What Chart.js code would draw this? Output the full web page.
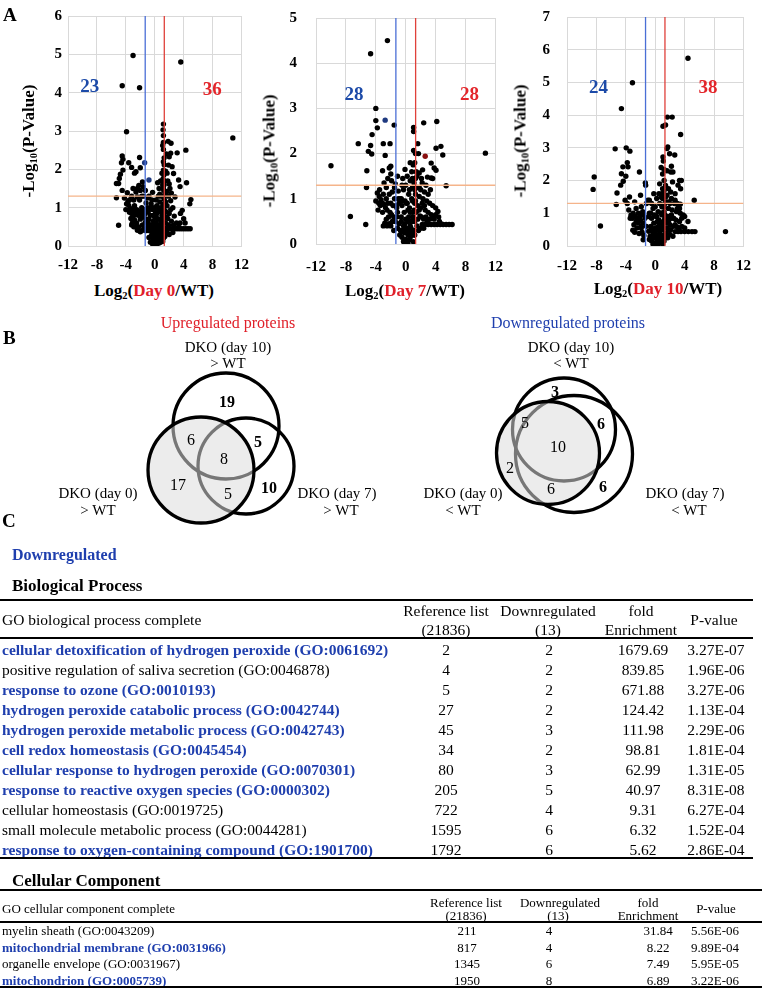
<!DOCTYPE html>
<html><head><meta charset="utf-8">
<script src="https://cdn.jsdelivr.net/npm/chart.js@4.4.1/dist/chart.umd.min.js"></script>
<style>
html,body{margin:0;padding:0;background:#fff;}
#page{position:relative;width:762px;height:989px;overflow:hidden;font-family:"Liberation Serif","Times New Roman",serif;color:#000;background:#fff;}
#page canvas{position:absolute;}
.t{position:absolute;white-space:nowrap;line-height:1;}
.c{transform:translate(-50%,-50%);}
.l{transform:translate(0,-50%);}
.ytitle{position:absolute;white-space:nowrap;line-height:1;font-weight:bold;font-size:17px;transform:translate(-50%,-50%) rotate(-90deg);}
.xtitle{position:absolute;white-space:nowrap;line-height:1;font-weight:bold;font-size:17px;transform:translate(-50%,-50%);}
sub{font-size:0.62em;vertical-align:-0.3em;line-height:0;}
.red{color:#e0202a;}
.panel{font-weight:bold;font-size:19px;}
.rule{position:absolute;height:2px;background:#000;}
.hl{font-weight:bold;color:#1f3fae;}
svg{position:absolute;left:0;top:0;}
</style>
</head>
<body>
<div id="page">
  <canvas id="v0"></canvas>
  <canvas id="v7"></canvas>
  <canvas id="v10"></canvas>
</div>
<script>
// ---------------- Volcano plot data ----------------
const xTickStep = 4;
const xRange = [-12, 12];
const yMaxes = [6, 5, 7];
const foldCut = [-1.32, 1.32];
const pCut = 1.3;
const downCounts = [23, 28, 24];
const upCounts = [36, 28, 38];
const dayLabels = ["Day 0", "Day 7", "Day 10"];

const day0Points = [
 [-3.0,4.97],[3.6,4.80],[-4.5,4.18],[-2.1,4.13],[10.8,2.82],[-3.9,2.98],
 [1.2,3.18],[1.15,3.03],[1.2,2.88],[1.1,2.62],[1.2,2.52],[1.85,2.73],[2.25,2.68],[3.1,2.43],[4.3,2.5],[2.2,2.42],[2.0,2.33],[1.3,2.12],[1.9,2.11],[2.4,2.07],[1.2,1.98],[2.6,1.89],[1.25,1.85],[1.15,1.75],[3.3,1.72],[4.4,1.65],[1.8,1.7],[2.0,1.62],[1.3,1.6],[3.5,1.55],[2.1,1.5],[1.25,1.45],[1.7,1.42],[2.3,1.38],[1.4,1.33],[1.9,1.3],[2.8,1.28],[1.3,1.22],[2.2,1.18],[5.0,1.21],[4.85,1.1],[1.3,1.1],[1.7,1.05],[2.5,1.0],[1.25,0.98],[1.5,0.9],[3.8,0.93],[3.55,0.85],[2.0,0.85],[1.3,0.8],[2.7,0.78],[1.8,0.72],[4.0,0.71],[1.2,0.7],[2.3,0.65],[1.5,0.6],[3.0,0.6],[1.9,0.55],[4.2,0.6],
 [1.3,0.45],[1.6,0.45],[1.9,0.45],[2.2,0.45],[2.5,0.45],[2.8,0.45],[3.1,0.45],[3.4,0.45],[3.7,0.45],[4.0,0.45],[4.3,0.45],[4.6,0.45],[4.9,0.45],
 [-2.1,2.31],[-3.6,2.17],[-4.6,2.17],[-4.4,2.26],[-4.5,2.35],[-2.0,2.04],[-2.6,1.94],[-4.4,1.98],[-4.75,1.87],[-4.9,1.76],[-5.0,1.63],[-5.3,1.63],[-5.3,1.26],[-5.0,0.54],[-3.8,1.39],[-3.7,1.16],[-3.6,1.06],[-3.4,0.98],[-3.2,0.85],[-3.0,0.76],[-2.8,0.68],[-3.1,0.6],[-3.2,0.55],[-2.9,0.5],[-2.4,0.41],[-2.0,0.37],[-2.2,0.5],[-1.7,1.67],[-2.2,1.58],[-2.4,1.5],[-2.6,1.41],[-2.4,1.28],[-2.9,1.2],[-1.5,1.3],[-1.2,1.12],[-1.8,1.0],[-2.5,0.95],[-2.2,0.9],[-1.9,0.8],[-1.5,0.75],[-1.3,0.62],[-1.7,0.55],[-1.0,0.5],[-3.5,0.88],[-4.0,0.95],[-3.3,0.72],[-2.6,0.82],[-3.9,1.1],[-2.0,1.45],[-1.6,1.55],
 [-0.8,1.3],[-0.5,1.1],[-0.3,0.95],[0.2,1.2],[0.5,1.0],[0.8,0.9],[-0.6,0.8],[0.0,0.75],[0.4,0.7],[0.9,0.65],[-0.9,0.6],[-0.4,0.55],[0.1,0.5],[0.6,0.45],[1.0,0.4],[-0.7,0.4],[-0.2,0.35],[0.3,0.3],[0.8,0.28],[-0.5,0.25],[0.0,0.2],[0.5,0.15],[0.2,0.1],[-0.2,0.12],[0.3,0.05],[0.1,0.02],[-0.1,0.06],[0.6,0.08],[0.9,0.18],[-0.8,0.22],[1.1,0.12],[0.7,0.55],[0.3,0.85],[-0.1,1.0],[0.9,1.3],[0.6,1.5],[-0.3,1.4],[0.8,1.7],[1.0,1.9],[0.4,1.65],[-0.6,0.1],[0.4,0.4],[1.0,0.8],[1.1,1.05],[0.7,1.15],[-0.2,0.65],[0.2,0.6],
 [-0.3,0.05],[0.0,0.3],[0.2,0.25],[0.5,0.3],[0.7,0.35],[-0.4,0.3],[-0.1,0.45],[0.3,0.5],[0.8,0.5],[1.0,0.6],[-0.6,0.5],[-1.1,0.7],[-1.3,0.85],[-0.9,0.9],[-1.0,1.0],[-0.6,1.0],[0.1,0.9],[0.6,0.7],[0.9,0.95],[1.1,0.3],[1.2,0.2],[1.2,0.5],[1.1,0.7],[1.2,0.9],[1.15,1.3],[1.2,1.5],[1.1,1.6],[1.3,1.7],[1.2,2.2],[1.3,2.3],[1.2,2.7],[0.8,0.1],[0.6,0.3],[0.4,0.2],[0.0,0.4],[-0.3,0.2],[-0.5,0.45],[-0.8,0.7],[-1.2,0.4],[-1.5,0.45],[-1.8,0.4],[-1.6,0.9],[-2.0,0.7],[-2.3,0.8],[-2.7,0.9],[-2.8,1.05],[-3.0,0.95],[-2.1,1.2],[-1.8,1.3],[-1.4,0.95],[-1.1,0.9],[-0.2,0.8],[0.5,0.55],[0.2,0.75],[-0.4,1.2],[0.3,1.05],[0.5,1.3],[0.7,1.35],[1.5,1.15],[1.6,0.75],[1.7,0.35],[1.4,0.25],[2.0,0.3],[2.5,0.35],[1.5,1.95],[1.6,2.4],[1.7,1.9],[2.2,0.95],[2.6,0.55],[3.3,0.5],[3.5,0.6],[-2.5,0.6],[-2.7,0.5],[-3.5,1.2],[-3.2,1.3],[-4.2,1.25],[-4.5,1.45],[-3.0,1.5],[-1.3,1.45],[-1.0,1.25],[-2.8,1.9],[-3.2,2.05]
];
const day0Blue = [[-1.4,2.17],[-0.8,1.72]];
const day0Red = [];

const day7Points = [
 [-2.45,4.5],[-4.7,4.21],[-4.0,3.0],[-10.0,1.73],[-7.4,0.61],[-5.35,0.43],[10.65,2.01],
 [-4.0,2.73],[-3.8,2.57],[-4.5,2.42],[-1.55,2.63],[-6.35,2.22],[-4.7,2.18],[-3.0,2.22],[-2.1,2.22],[-5.0,2.05],[-4.55,1.99],[-2.75,1.96],[-2.0,1.72],[-2.2,1.68],[-5.2,1.62],[-3.1,1.62],[-5.25,1.25],[-1.1,1.5],[-1.0,1.17],[-1.4,1.33],[-1.9,1.4],[-2.4,1.45],[-3.8,1.13],[-3.55,1.05],[-3.3,0.98],[-3.1,0.9],[-2.9,0.87],[-2.7,0.8],[-3.4,0.85],[-2.5,0.75],[-2.8,0.46],[-2.5,0.4],[-2.2,0.45],[-2.0,0.4],[-2.3,0.6],[-1.9,0.65],[-1.6,0.6],[-2.0,0.9],[-1.7,0.85],[-1.5,1.0],[-1.2,0.8],[-1.4,0.5],[-1.1,0.35],[-3.0,1.1],[-2.6,1.25],
 [1.05,2.58],[1.05,2.49],[2.4,2.68],[4.15,2.71],[4.7,2.16],[4.05,2.12],[4.95,1.97],[1.6,2.22],[1.05,2.07],[1.7,2.0],[3.4,1.79],[3.8,1.68],[4.05,1.63],[2.25,1.64],[1.8,1.57],[1.5,1.5],[2.1,1.45],[2.9,1.48],[3.4,1.46],[3.6,1.45],[5.4,1.29],[1.1,1.35],[1.5,1.25],[2.0,1.2],[2.5,1.15],[1.3,1.1],[1.8,1.05],[2.3,1.0],[2.8,0.95],[3.2,0.9],[3.6,0.85],[4.0,0.8],[4.3,0.72],[1.2,0.9],[1.6,0.85],[2.0,0.8],[2.6,0.75],[3.0,0.7],[3.4,0.65],[1.4,0.7],[1.9,0.62],[2.4,0.55],[2.9,0.5],[3.8,0.55],[4.5,0.5],[4.7,0.45],
 [2.2,0.43],[2.6,0.43],[3.0,0.43],[3.4,0.43],[3.8,0.43],[4.2,0.43],[4.6,0.43],[5.0,0.43],[5.4,0.43],[5.8,0.43],[6.2,0.43],
 [-0.8,1.0],[-0.5,0.85],[-0.2,0.7],[0.2,0.9],[0.5,0.8],[0.8,1.0],[-0.6,0.6],[0.0,0.55],[0.4,0.6],[0.9,0.7],[-0.9,0.45],[-0.3,0.4],[0.1,0.35],[0.6,0.4],[1.0,0.5],[-0.7,0.3],[-0.2,0.25],[0.3,0.2],[0.8,0.25],[-0.5,0.15],[0.0,0.1],[0.5,0.1],[0.2,0.05],[-0.2,0.08],[0.3,0.02],[0.1,0.0],[0.6,0.15],[0.9,0.3],[-0.8,0.2],[1.1,0.2],[0.7,0.5],[0.3,0.75],[-0.1,0.95],[0.9,1.25],[0.6,1.4],[-0.3,1.2],[0.8,1.6],[1.0,1.75],[0.4,1.1],[-0.4,1.45],[0.0,1.3],[1.0,0.05],
 [-0.3,0.05],[0.0,0.3],[0.2,0.25],[0.5,0.3],[0.7,0.35],[-0.4,0.3],[-0.1,0.45],[0.3,0.5],[0.8,0.5],[1.0,0.6],[-0.6,0.5],[-1.1,0.7],[-1.3,0.85],[-0.9,0.9],[-1.0,1.0],[-0.6,1.0],[0.1,0.9],[0.6,0.7],[0.9,0.95],[1.1,0.3],[1.2,0.2],[1.2,0.5],[1.1,0.75],[1.3,0.95],[1.2,1.2],[1.3,1.45],[1.4,1.6],[1.2,1.8],[1.3,2.0],[1.5,0.4],[1.7,0.3],[2.0,0.35],[1.6,0.55],[1.8,0.75],[2.1,0.6],[2.2,0.9],[2.5,0.85],[2.7,0.6],[2.4,0.35],[3.2,0.55],[3.6,0.6],[4.0,0.65],[4.4,0.6],[3.0,1.1],[3.3,1.2],[2.7,1.3],[2.2,1.35],[1.8,1.25],[-1.6,0.3],[-1.8,0.5],[-2.1,0.7],[-2.4,0.9],[-2.6,1.0],[-2.2,1.1],[-1.8,1.15],[-1.5,1.25],[-3.1,0.7],[-3.5,1.2],[-3.6,0.9],[-2.9,1.35],[-2.0,1.55],[-3.7,0.75],[-4.0,0.95],[-2.6,0.55],[-3.0,0.4],[-1.2,0.6],[-0.5,1.3],[0.2,1.5],[0.5,1.2],[-0.1,1.65],[0.6,1.8],[0.9,1.45],[-0.4,0.95]
];
const day7Blue = [[-2.75,2.74]];
const day7Red = [[2.6,1.94]];

const day10Points = [
 [4.45,5.74],[-3.1,4.99],[-4.6,4.2],[3.45,3.41],[-8.3,2.11],[-8.45,1.73],[-7.45,0.61],[9.55,0.44],[5.3,1.4],
 [1.65,3.94],[2.3,3.94],[1.05,3.66],[1.4,3.7],[1.6,2.98],[1.7,3.03],[1.95,2.82],[2.65,2.78],[1.05,2.72],[2.1,2.26],[2.4,2.26],[2.2,2.44],[1.6,2.3],[1.2,2.34],[3.3,2.0],[3.55,2.0],[3.1,1.86],[3.45,1.75],[2.35,1.96],[1.2,2.0],[1.4,1.85],[1.8,1.75],[1.1,1.6],[1.6,1.55],[2.1,1.65],[2.7,1.6],[1.0,1.45],[1.5,1.35],[2.0,1.3],[2.6,1.3],[3.0,1.3],[3.4,1.28],[1.2,1.2],[1.8,1.15],[2.3,1.1],[2.9,1.05],[3.4,1.0],[3.8,0.95],[4.0,0.9],[1.3,0.95],[1.7,0.9],[2.2,0.85],[2.8,0.8],[3.3,0.75],[4.45,0.75],[1.5,0.7],[2.0,0.65],[2.5,0.6],[3.0,0.58],[3.6,0.6],[1.2,0.55],[1.8,0.5],
 [2.7,0.44],[3.1,0.44],[3.5,0.44],[4.0,0.44],[4.5,0.44],[5.0,0.44],[5.4,0.44],
 [-5.45,2.97],[-3.95,3.0],[-3.45,2.9],[-3.8,2.55],[-3.7,2.42],[-4.4,2.42],[-4.6,2.21],[-4.0,2.13],[-4.35,1.98],[-4.7,1.86],[-2.15,2.26],[-1.35,1.93],[-1.3,1.86],[-5.2,1.62],[-5.3,1.27],[-3.5,1.5],[-2.8,1.35],[-3.8,1.3],[-3.6,1.1],[-3.3,0.94],[-3.1,0.85],[-2.8,0.9],[-2.4,0.85],[-2.1,0.9],[-2.0,0.78],[-3.05,0.48],[-2.8,0.42],[-2.2,0.38],[-1.8,0.42],[-2.5,0.55],[-1.9,0.6],[-1.6,0.7],[-1.7,1.05],[-2.0,1.55],[-1.2,1.3],[-1.0,1.4],[-4.1,1.4],[-2.6,1.15],[-1.64,0.19],[-1.55,0.32],
 [-0.8,1.0],[-0.5,0.85],[-0.2,0.7],[0.2,0.9],[0.5,0.8],[0.8,1.0],[-0.6,0.6],[0.0,0.55],[0.4,0.6],[0.9,0.7],[-0.9,0.45],[-0.3,0.4],[0.1,0.35],[0.6,0.4],[1.0,0.5],[-0.7,0.3],[-0.2,0.25],[0.3,0.2],[0.8,0.25],[-0.5,0.15],[0.0,0.1],[0.5,0.1],[0.2,0.05],[-0.2,0.08],[0.3,0.02],[0.1,0.0],[0.6,0.15],[0.9,0.3],[-0.8,0.2],[1.1,0.2],[0.7,0.5],[0.3,0.75],[-0.1,0.95],[0.9,1.2],[0.6,1.3],[-0.3,1.15],[0.8,1.5],[1.0,1.75],[0.4,1.05],[-0.5,1.3],[0.0,1.2],[1.0,0.05],[1.0,1.0],[0.5,1.6],
 [-0.3,0.05],[0.0,0.3],[0.2,0.25],[0.5,0.3],[0.7,0.35],[-0.4,0.3],[-0.1,0.45],[0.3,0.5],[0.8,0.5],[1.0,0.6],[-0.6,0.5],[-0.9,0.9],[-0.6,1.0],[0.1,0.9],[0.6,0.7],[0.9,0.95],[1.1,0.3],[1.2,0.15],[1.3,0.35],[1.1,0.75],[1.3,0.85],[1.2,1.05],[1.3,1.3],[1.4,1.5],[1.2,1.7],[1.5,0.4],[1.7,0.25],[2.0,0.35],[1.6,0.55],[1.8,0.75],[2.1,0.5],[2.2,0.95],[2.5,0.85],[2.7,0.65],[2.4,0.3],[3.2,0.5],[3.6,0.85],[4.0,0.55],[3.0,1.15],[3.3,1.15],[2.7,1.4],[2.2,1.45],[1.8,1.35],[-1.2,0.6],[-1.4,0.85],[-1.6,0.95],[-1.9,0.55],[-2.3,0.7],[-2.6,0.75],[-2.9,0.65],[-3.4,0.85],[-3.0,1.0],[-2.3,1.0],[-1.9,1.2],[-0.8,1.4],[0.2,1.45],[-0.2,1.6],[0.6,1.9],[0.9,1.6],[1.0,2.2],[0.8,2.4],[1.1,2.6]
];
const day10Blue = [];
const day10Red = [];

// count label anchors (data units)
const downLabelAt = [[-9.0,4.14],[-6.93,3.29],[-7.73,4.84]];
const upLabelAt = [[7.94,4.07],[8.54,3.29],[7.18,4.84]];

// ---------------- Venn data ----------------
const upVennCounts = [19, 6, 5, 8, 17, 5, 10];
const downVennCounts = [3, 5, 6, 10, 2, 6, 6];

// ---------------- GO tables ----------------
const bpTerms = [
 "cellular detoxification of hydrogen peroxide (GO:0061692)",
 "positive regulation of saliva secretion (GO:0046878)",
 "response to ozone (GO:0010193)",
 "hydrogen peroxide catabolic process (GO:0042744)",
 "hydrogen peroxide metabolic process (GO:0042743)",
 "cell redox homeostasis (GO:0045454)",
 "cellular response to hydrogen peroxide (GO:0070301)",
 "response to reactive oxygen species (GO:0000302)",
 "cellular homeostasis (GO:0019725)",
 "small molecule metabolic process (GO:0044281)",
 "response to oxygen-containing compound (GO:1901700)"];
const bpHighlight = [1,0,1,1,1,1,1,1,0,0,1];
const bpRef = [2,4,5,27,45,34,80,205,722,1595,1792];
const bpDown = [2,2,2,2,3,2,3,5,4,6,6];
const bpFold = ["1679.69","839.85","671.88","124.42","111.98","98.81","62.99","40.97","9.31","6.32","5.62"];
const bpP = ["3.27E-07","1.96E-06","3.27E-06","1.13E-04","2.29E-06","1.81E-04","1.31E-05","8.31E-08","6.27E-04","1.52E-04","2.86E-04"];

const ccTerms = ["myelin sheath (GO:0043209)","mitochondrial membrane (GO:0031966)","organelle envelope (GO:0031967)","mitochondrion (GO:0005739)"];
const ccHighlight = [0,1,0,1];
const ccRef = [211,817,1345,1950];
const ccDown = [4,4,6,8];
const ccFold = ["31.84","8.22","7.49","6.89"];
const ccP = ["5.56E-06","9.89E-04","5.95E-05","3.22E-06"];

// ================= rendering =================
const page = document.getElementById('page');
function txt(x, y, html, style, cls) {
  const d = document.createElement('div');
  d.className = 't ' + (cls || 'c');
  d.style.left = x + 'px'; d.style.top = y + 'px';
  if (style) d.style.cssText += style;
  d.innerHTML = html;
  page.appendChild(d);
  return d;
}
function rule(x, y, w) {
  const d = document.createElement('div');
  d.className = 'rule';
  d.style.left = x + 'px'; d.style.top = (y - 1) + 'px'; d.style.width = w + 'px';
  page.appendChild(d);
}

Chart.defaults.font.family = '"Liberation Serif","Times New Roman",serif';
Chart.defaults.color = '#000';

const countLabels = {
  id: 'countLabels',
  afterDatasetsDraw(chart, args, opts) {
    const ctx = chart.ctx, xs = chart.scales.x, ys = chart.scales.y;
    (opts.items || []).forEach(it => {
      ctx.save();
      ctx.font = 'bold 19px "Liberation Serif", serif';
      ctx.fillStyle = it.color;
      ctx.textAlign = 'center';
      ctx.textBaseline = 'middle';
      ctx.fillText(String(it.text), xs.getPixelForValue(it.x), ys.getPixelForValue(it.y));
      ctx.restore();
    });
  }
};

// g: plot box target (pl, pt, pr, pb) + paddings
function volcano(id, idx, pts, bluePts, redPts, g) {
  const cv = document.getElementById(id);
  const left = g.pl - g.yW;
  const top = g.pt - g.yPad - 9;
  const w = g.pr + g.xPad + 7.5 - left;
  const h = g.pb + g.xH - top;
  cv.width = Math.round(w); cv.height = Math.round(h);
  cv.style.left = left + 'px'; cv.style.top = top + 'px';
  const yMax = yMaxes[idx];
  const toXY = a => a.map(p => ({x: p[0], y: p[1]}));
  const lineDs = (data, color) => ({data, showLine: true, borderColor: color, borderWidth: 1.3, pointRadius: 0, fill: false, order: 0});
  new Chart(cv, {
    type: 'scatter',
    data: { datasets: [
      lineDs([{x: foldCut[0], y: 0}, {x: foldCut[0], y: yMax}], '#4a6fd6'),
      lineDs([{x: foldCut[1], y: 0}, {x: foldCut[1], y: yMax}], '#e0403a'),
      lineDs([{x: xRange[0], y: pCut}, {x: xRange[1], y: pCut}], '#f5b48a'),
      {data: toXY(pts), backgroundColor: '#000', borderWidth: 0, pointRadius: 2.7, order: 2},
      {data: toXY(bluePts), backgroundColor: '#1f3a80', borderWidth: 0, pointRadius: 2.7, order: 1},
      {data: toXY(redPts), backgroundColor: '#8a1010', borderWidth: 0, pointRadius: 2.7, order: 1}
    ]},
    options: {
      responsive: false, animation: false, events: [],
      layout: {padding: 0},
      plugins: {
        legend: {display: false}, tooltip: {enabled: false},
        countLabels: {items: [
          {text: downCounts[idx], x: downLabelAt[idx][0], y: downLabelAt[idx][1], color: '#1c4aa8'},
          {text: upCounts[idx], x: upLabelAt[idx][0], y: upLabelAt[idx][1], color: '#e3262b'}
        ]}
      },
      scales: {
        x: {type: 'linear', min: xRange[0], max: xRange[1],
            ticks: {stepSize: xTickStep, padding: g.xPad, font: {size: 15, weight: 'bold'}, color: '#000'},
            grid: {color: '#d9d9d9', drawTicks: false, lineWidth: 1},
            border: {color: '#d9d9d9'},
            afterFit: s => { s.height = g.xH; }},
        y: {type: 'linear', min: 0, max: yMax,
            ticks: {stepSize: 1, padding: g.yPad, font: {size: 15, weight: 'bold'}, color: '#000'},
            grid: {color: '#d9d9d9', drawTicks: false, lineWidth: 1},
            border: {color: '#d9d9d9'},
            afterFit: s => { s.width = g.yW; }}
      }
    },
    plugins: [countLabels]
  });
}

volcano('v0', 0, day0Points, day0Blue, day0Red, {pl: 68, pt: 16, pr: 241, pb: 246, yW: 68, xH: 34, yPad: 6, xPad: 10});
volcano('v7', 1, day7Points, day7Blue, day7Red, {pl: 316, pt: 18, pr: 495, pb: 244, yW: 62, xH: 36, yPad: 19, xPad: 14});
volcano('v10', 2, day10Points, day10Blue, day10Red, {pl: 567, pt: 17, pr: 743, pb: 246, yW: 59, xH: 34, yPad: 17, xPad: 11});

// axis titles
const yTitleAt = [[28,141],[269,151],[520,141]];
const xTitleAt = [[154,290],[405,290],[658,288]];
yTitleAt.forEach(p => { const d = document.createElement('div'); d.className = 'ytitle'; d.style.left = p[0] + 'px'; d.style.top = p[1] + 'px'; d.innerHTML = '-Log<sub>10</sub>(P-Value)'; page.appendChild(d); });
xTitleAt.forEach((p, i) => { const d = document.createElement('div'); d.className = 'xtitle'; d.style.left = p[0] + 'px'; d.style.top = p[1] + 'px'; d.innerHTML = 'Log<sub>2</sub>(<span class="red">' + dayLabels[i] + '</span>/WT)'; page.appendChild(d); });

// panel letters
txt(3, 14, 'A', '', 'l panel');
txt(3, 337, 'B', '', 'l panel');
txt(2, 520, 'C', '', 'l panel');

// ---------------- Venn diagrams (SVG) ----------------
const NS = 'http://www.w3.org/2000/svg';
const svg = document.createElementNS(NS, 'svg');
svg.setAttribute('width', 762); svg.setAttribute('height', 989);
page.appendChild(svg);
function el(tag, attrs, parent) {
  const e = document.createElementNS(NS, tag);
  for (const k in attrs) e.setAttribute(k, attrs[k]);
  (parent || svg).appendChild(e);
  return e;
}
function venn(key, base, others, counts, spots, boldFlags) {
  const defs = el('defs', {});
  const cp = el('clipPath', {id: 'clip' + key}, defs);
  el('circle', {cx: base[0], cy: base[1], r: base[2]}, cp);
  el('circle', {cx: base[0], cy: base[1], r: base[2], fill: '#ececec', stroke: 'none'});
  others.forEach(c => el('circle', {cx: c[0], cy: c[1], r: c[2], fill: 'none', stroke: '#000', 'stroke-width': 3.3}));
  const g = el('g', {'clip-path': 'url(#clip' + key + ')'});
  el('circle', {cx: base[0], cy: base[1], r: base[2], fill: '#ececec', stroke: 'none'}, g);
  others.forEach(c => el('circle', {cx: c[0], cy: c[1], r: c[2], fill: 'none', stroke: '#777', 'stroke-width': 3.3}, g));
  el('circle', {cx: base[0], cy: base[1], r: base[2], fill: 'none', stroke: '#000', 'stroke-width': 3.3});
  counts.forEach((n, i) => {
    const t = el('text', {x: spots[i][0], y: spots[i][1], 'text-anchor': 'middle', 'dominant-baseline': 'central',
      'font-family': 'Liberation Serif, serif', 'font-size': 16, 'font-weight': boldFlags[i] ? 'bold' : 'normal'});
    t.textContent = n;
  });
}
venn('up', [201, 470, 53], [[226, 426, 53], [246, 466, 48]], upVennCounts,
  [[227,401],[191,439],[258,441],[224,458],[178,484],[228,493],[269,487]], [1,0,1,0,0,0,1]);
venn('dn', [548, 453, 51.5], [[564, 429.5, 51.5], [574, 454, 58.5]], downVennCounts,
  [[555,391],[525,422],[601,423],[558,446],[510,467],[551,488],[603,486]], [1,0,1,0,0,0,1]);

const vennFont = 'font-size:15px;';
txt(228, 323, 'Upregulated proteins', 'font-size:16px;color:#e0202a;');
txt(568, 323, 'Downregulated proteins', 'font-size:16px;color:#1f3fae;');
txt(228, 347, 'DKO (day 10)', vennFont); txt(228, 363, '&gt; WT', vennFont);
txt(98, 493, 'DKO (day 0)', vennFont); txt(98, 510, '&gt; WT', vennFont);
txt(337, 493, 'DKO (day 7)', vennFont); txt(341, 510, '&gt; WT', vennFont);
txt(571, 347, 'DKO (day 10)', vennFont); txt(571, 363, '&lt; WT', vennFont);
txt(463, 493, 'DKO (day 0)', vennFont); txt(463, 510, '&lt; WT', vennFont);
txt(685, 493, 'DKO (day 7)', vennFont); txt(689, 510, '&lt; WT', vennFont);

// ---------------- Tables ----------------
txt(12, 555, 'Downregulated', 'font-size:16px;font-weight:bold;color:#1f3fae;', 'l');
txt(12, 585, 'Biological Process', 'font-size:17px;font-weight:bold;', 'l');
const f1 = 'font-size:15.5px;';
rule(0, 600, 753);
txt(2, 620, 'GO biological process complete', f1, 'l');
const bpCols = [446, 549, 643, 716];
txt(bpCols[0], 611, 'Reference list', f1); txt(bpCols[0], 630, '(21836)', f1);
txt(548, 611, 'Downregulated', f1); txt(548, 630, '(13)', f1);
txt(641, 611, 'fold', f1); txt(641, 630, 'Enrichment', f1);
txt(714, 620, 'P-value', f1);
rule(0, 638, 753);
bpTerms.forEach((term, i) => {
  const y = 650 + 20 * i;
  const d = txt(2, y, term, f1, 'l');
  if (bpHighlight[i]) d.classList.add('hl');
  txt(bpCols[0], y, bpRef[i], f1); txt(bpCols[1], y, bpDown[i], f1);
  txt(bpCols[2], y, bpFold[i], f1); txt(bpCols[3], y, bpP[i], f1);
});
rule(0, 858, 753);

txt(12, 880, 'Cellular Component', 'font-size:17px;font-weight:bold;', 'l');
const f2 = 'font-size:13px;';
rule(0, 890, 762);
txt(2, 908, 'GO cellular component complete', f2, 'l');
const ccCols = [467, 549, 658, 715];
txt(466, 902, 'Reference list', f2); txt(466, 915, '(21836)', f2);
txt(560, 902, 'Downregulated', f2); txt(558, 915, '(13)', f2);
txt(648, 902, 'fold', f2); txt(648, 915, 'Enrichment', f2);
txt(716, 908, 'P-value', f2);
rule(0, 922, 762);
ccTerms.forEach((term, i) => {
  const y = 930 + 16.7 * i;
  const d = txt(2, y, term, f2, 'l');
  if (ccHighlight[i]) d.classList.add('hl');
  txt(ccCols[0], y, ccRef[i], f2); txt(ccCols[1], y, ccDown[i], f2);
  txt(ccCols[2], y, ccFold[i], f2); txt(ccCols[3], y, ccP[i], f2);
});
rule(0, 987, 762);
</script>
</body></html>
